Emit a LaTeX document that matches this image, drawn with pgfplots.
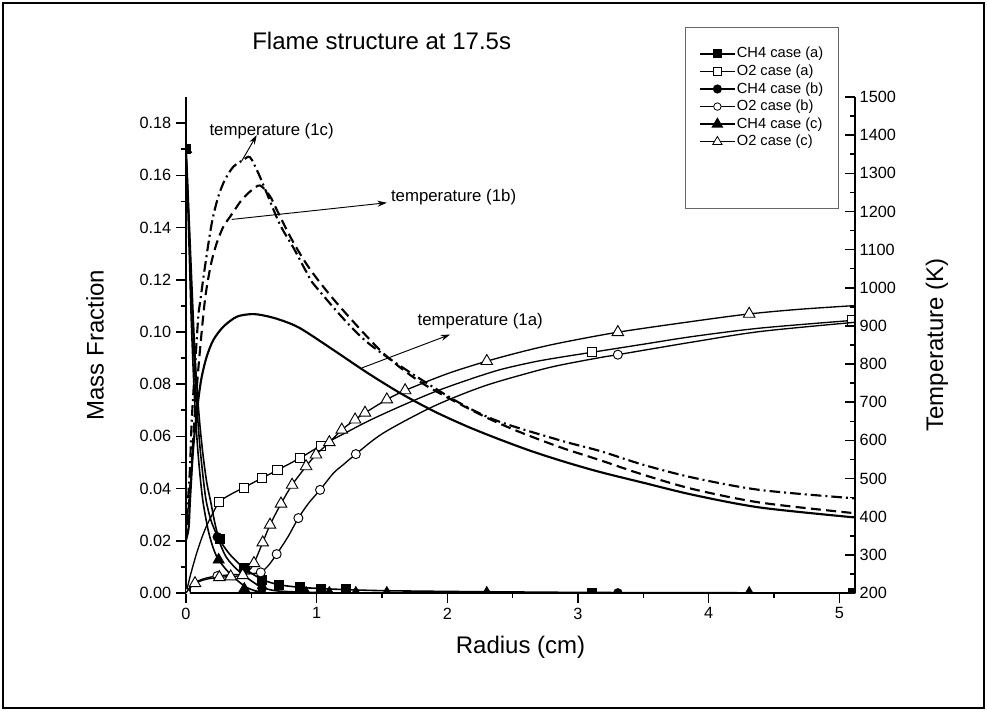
\documentclass[border=0pt]{standalone}
\usepackage{fontspec}
\setmainfont{Liberation Sans}
\usepackage{pgfplots}
\pgfplotsset{compat=1.18}
\usetikzlibrary{arrows.meta}
\begin{document}
\begin{tikzpicture}
\useasboundingbox (-139.5pt,-88.5pt) rectangle (600.75pt,444.75pt);
\pgfplotsset{
  every axis/.append style={
    scale only axis, width=501.75pt, height=372pt, at={(0pt,0pt)}, anchor=south west,
    xmin=0, xmax=5.12,
    axis line style={line width=1.5pt, -},
    major tick length=7.5pt, minor tick length=4pt,
    tick style={black, line width=1.2pt},
    tick label style={font=\fontsize{12.2pt}{14pt}\selectfont},
    label style={font=\fontsize{18pt}{21pt}\selectfont},
    /pgf/number format/assume math mode=true,
    /pgf/number format/1000 sep={},
    clip mode=individual,
    clip marker paths=true,
  },
}
% ---------------- Mass fraction axis ----------------
\begin{axis}[
  axis x line*=bottom, axis y line*=left,
  tick align=outside,
  ymin=0, ymax=0.19,
  ytick={0,0.02,0.04,0.06,0.08,0.10,0.12,0.14,0.16,0.18},
  minor y tick num=1,
  xtick={0,1,2,3,4,5}, minor x tick num=1,
  scaled y ticks=false,
  y tick label style={/pgf/number format/.cd, fixed, fixed zerofill, precision=2, /tikz/.cd},
  xlabel={Radius (cm)}, ylabel={Mass Fraction},
  xlabel style={at={(axis description cs:0.5,-0.121)}, anchor=base},
  ylabel style={at={(axis description cs:-0.136,0.5)}, anchor=center},
  legend style={draw=none, fill=none, inner sep=0pt, at={(axis description cs:0.7668,1.1054)}, anchor=north west,
    font=\fontsize{11pt}{13pt}\selectfont, row sep=0pt,
    nodes={inner sep=1pt, text height=8.7pt, text depth=2.5pt}},
  legend cell align=left,
  legend image code/.code={\draw[mark repeat=2,mark phase=2,#1] plot coordinates {(0pt,0pt) (13pt,0pt) (26pt,0pt)};},
]
\draw[black!60, line width=0.75pt, fill=white] (axis description cs:0.746,1.1411) rectangle (axis description cs:0.976,0.776);

% CH4 case (a)
\addplot[black, line width=1.2pt, smooth, forget plot] coordinates {
(0,0.170)(0.01,0.160)(0.025,0.142)(0.045,0.118)(0.07,0.090)(0.10,0.068)(0.13,0.053)(0.16,0.042)(0.191,0.0345)(0.22,0.027)(0.255,0.0208)(0.332,0.0150)(0.446,0.0095)(0.582,0.0052)(0.71,0.0032)(0.868,0.0022)(1.034,0.0017)(1.22,0.0013)(1.5,0.0009)(2,0.0006)(2.5,0.0004)(3.1,0.0002)(4,0.0001)(5.12,0)};
\addplot[only marks, mark=square*, mark size=3.4pt, black, forget plot] coordinates {
(0,0.170)(0.255,0.0208)(0.446,0.0095)(0.582,0.0050)(0.71,0.0031)(0.868,0.0022)(1.034,0.0018)(1.22,0.0015)(3.106,0.0002)(5.10,0)};
% O2 case (a)
\addplot[black, line width=1pt, smooth, forget plot] coordinates {
(0,0.0)(0.02,0.004)(0.04,0.008)(0.08,0.015)(0.12,0.021)(0.16,0.026)(0.2,0.030)(0.255,0.0349)(0.35,0.0380)(0.444,0.0404)(0.58,0.0440)(0.70,0.0471)(0.873,0.0517)(1.03,0.0564)(1.2,0.0608)(1.4,0.0660)(1.64,0.0715)(1.9,0.0770)(2.15,0.0815)(2.4,0.0855)(2.66,0.0885)(2.864,0.0903)(3.106,0.0922)(3.5,0.0953)(3.884,0.0983)(4.4,0.1015)(5.12,0.1045)};
\addplot[only marks, mark=square*, mark size=3.4pt, black, mark options={fill=white, line width=0.7pt}, forget plot] coordinates {
(0,0)(0.255,0.0349)(0.444,0.0404)(0.58,0.0440)(0.70,0.0471)(0.873,0.0517)(1.03,0.0564)(3.106,0.0922)(5.10,0.1044)};
% CH4 case (b)
\addplot[black, line width=1.2pt, smooth, forget plot] coordinates {
(0,0.170)(0.01,0.158)(0.025,0.138)(0.045,0.110)(0.07,0.082)(0.10,0.060)(0.125,0.047)(0.153,0.0357)(0.19,0.028)(0.23,0.0229)(0.306,0.0139)(0.408,0.0082)(0.51,0.0043)(0.582,0.0022)(0.7,0.0008)(1.0,0.0002)(1.5,0)(5.12,0)};
\addplot[only marks, mark=*, mark size=3.4pt, black, forget plot] coordinates {
(0,0.170)(0.24,0.0215)(0.582,0.0018)(1.026,0)(3.305,0)};
% O2 case (b)
\addplot[black, line width=1pt, smooth, forget plot] coordinates {
(0,0)(0.03,0.002)(0.06,0.0035)(0.1,0.0048)(0.16,0.0058)(0.24,0.0065)(0.35,0.0070)(0.45,0.0072)(0.52,0.0075)(0.572,0.0079)(0.63,0.0105)(0.694,0.0149)(0.78,0.0215)(0.86,0.0287)(0.94,0.0345)(1.026,0.0395)(1.128,0.0459)(1.2,0.0490)(1.30,0.0532)(1.511,0.0613)(1.894,0.0715)(2.277,0.0792)(2.659,0.0848)(2.864,0.0873)(3.17,0.0902)(3.305,0.0913)(3.884,0.0962)(4.4,0.1002)(5.12,0.1037)};
\addplot[only marks, mark=*, mark size=3.4pt, black, mark options={fill=white, line width=0.7pt}, forget plot] coordinates {
(0,0)(0.24,0.0065)(0.572,0.0079)(0.694,0.0149)(0.86,0.0287)(1.026,0.0395)(1.30,0.0532)(3.305,0.0913)};
% CH4 case (c)
\addplot[black, line width=1.2pt, smooth, forget plot] coordinates {
(0,0.170)(0.01,0.155)(0.025,0.130)(0.04,0.105)(0.06,0.080)(0.08,0.062)(0.10,0.049)(0.128,0.0357)(0.17,0.024)(0.21,0.017)(0.25,0.0127)(0.332,0.0076)(0.446,0.0027)(0.52,0.0010)(0.6,0.0003)(0.8,0)(5.12,0)};
\addplot[only marks, mark=triangle*, mark size=5pt, black, forget plot] coordinates {
(0,0.170)(0.25,0.0127)(0.446,0.0015)(0.919,0)(1.097,0)(1.30,0)(1.537,0)(2.302,0)(4.31,0)};
% O2 case (c)
\addplot[black, line width=1pt, smooth, forget plot] coordinates {
(0,0)(0.03,0.002)(0.069,0.0037)(0.15,0.0052)(0.255,0.0060)(0.342,0.0063)(0.434,0.0068)(0.48,0.0085)(0.52,0.0114)(0.587,0.0193)(0.643,0.0261)(0.727,0.0342)(0.812,0.0414)(0.919,0.0485)(0.995,0.0530)(1.097,0.0577)(1.192,0.0625)(1.294,0.0664)(1.37,0.0690)(1.537,0.0741)(1.677,0.0776)(2.0,0.0840)(2.302,0.0888)(2.6,0.0928)(2.864,0.0958)(3.305,0.0999)(3.884,0.1041)(4.31,0.1069)(4.7,0.1087)(5.12,0.1101)};
\addplot[only marks, mark=triangle*, mark size=5pt, black, mark options={fill=white, line width=0.7pt}, forget plot] coordinates {
(0.069,0.0037)(0.255,0.0060)(0.342,0.0063)(0.434,0.0068)(0.52,0.0114)(0.587,0.0193)(0.643,0.0261)(0.727,0.0342)(0.812,0.0414)(0.919,0.0485)(0.995,0.0530)(1.097,0.0577)(1.192,0.0625)(1.294,0.0664)(1.37,0.0690)(1.537,0.0741)(1.677,0.0776)(2.302,0.0888)(3.305,0.0999)(4.31,0.1069)};

\addlegendimage{black, line width=1.2pt, mark=square*, mark size=2.8pt}
\addlegendentry{CH4 case (a)}
\addlegendimage{black, line width=0.9pt, mark=square*, mark size=2.8pt, mark options={fill=white, line width=0.6pt}}
\addlegendentry{O2 case (a)}
\addlegendimage{black, line width=1.2pt, mark=*, mark size=2.8pt}
\addlegendentry{CH4 case (b)}
\addlegendimage{black, line width=0.9pt, mark=*, mark size=2.8pt, mark options={fill=white, line width=0.6pt}}
\addlegendentry{O2 case (b)}
\addlegendimage{black, line width=1.2pt, mark=triangle*, mark size=4pt}
\addlegendentry{CH4 case (c)}
\addlegendimage{black, line width=0.9pt, mark=triangle*, mark size=4pt, mark options={fill=white, line width=0.6pt}}
\addlegendentry{O2 case (c)}

% title and annotations
\node[anchor=base west, font=\fontsize{18pt}{21pt}\selectfont, inner sep=0pt] at (axis description cs:0.0987,1.0948) {Flame structure at 17.5s};
\draw[-{Stealth[length=7pt,width=4.5pt]}, line width=0.7pt] (axis cs:0.4265,0.1655) -- (axis cs:0.5413,0.1754);
\draw[-{Stealth[length=7pt,width=4.5pt]}, line width=0.7pt] (axis cs:0.35,0.1431) -- (axis cs:1.537,0.1495);
\draw[-{Stealth[length=7pt,width=4.5pt]}, line width=0.7pt] (axis cs:1.345,0.0862) -- (axis cs:2.021,0.0990);
\node[anchor=west, inner sep=0pt, font=\fontsize{12.6pt}{15pt}\selectfont] at (axis cs:0.178,0.1768) {temperature (1c)};
\node[anchor=west, inner sep=0pt, font=\fontsize{12.6pt}{15pt}\selectfont] at (axis cs:1.567,0.1515) {temperature (1b)};
\node[anchor=west, inner sep=0pt, font=\fontsize{12.6pt}{15pt}\selectfont] at (axis cs:1.771,0.1041) {temperature (1a)};
\end{axis}
% ---------------- Temperature axis ----------------
\begin{axis}[
  axis y line*=right, axis x line=none,
  tick align=inside,
  ymin=200, ymax=1500,
  ytick={200,300,400,500,600,700,800,900,1000,1100,1200,1300,1400,1500},
  minor y tick num=1,
  ylabel={Temperature (K)},
  ylabel style={at={(axis description cs:1.1226,0.5)}, anchor=center},
]
% temperature (1a)
\addplot[black, line width=1.6pt, smooth] coordinates {
(0,340)(0.02,370)(0.031,444)(0.056,583)(0.094,706)(0.12,766)(0.158,819)(0.209,863)(0.286,898)(0.388,924)(0.503,931)(0.6,927)(0.72,916)(0.873,894)(1.128,837)(1.384,778)(1.639,724)(1.894,677)(2.149,637)(2.404,602)(2.659,570)(2.915,542)(3.17,517)(3.5,489)(3.884,457)(4.395,424)(5.12,398)};
% temperature (1b)
\addplot[black, line width=1.6pt, smooth, dash pattern=on 7.5pt off 4pt] coordinates {
(0,340)(0.02,420)(0.04,520)(0.07,680)(0.1,810)(0.145,968)(0.19,1060)(0.235,1117)(0.286,1160)(0.337,1186)(0.426,1230)(0.5,1255)(0.567,1268)(0.643,1240)(0.694,1205)(0.796,1135)(0.898,1075)(1.0,1025)(1.179,950)(1.511,828)(1.817,748)(2.251,668)(2.532,625)(2.864,582)(3.17,548)(3.5,510)(3.884,472)(4.395,437)(5.12,409)};
% temperature (1c)
\addplot[black, line width=1.6pt, smooth, dash pattern=on 8pt off 3pt on 1.5pt off 3pt] coordinates {
(0,340)(0.015,440)(0.031,531)(0.044,653)(0.069,793)(0.094,925)(0.107,960)(0.145,1055)(0.197,1169)(0.247,1239)(0.298,1283)(0.362,1317)(0.439,1335)(0.49,1342)(0.554,1300)(0.618,1248)(0.72,1165)(0.822,1105)(0.924,1040)(1.0,1000)(1.384,858)(1.97,723)(2.353,655)(2.864,600)(3.17,572)(3.5,536)(3.884,502)(4.395,470)(5.12,448)};
\end{axis}
\draw[line width=1.5pt] (-137.25pt,-86.25pt) rectangle (598.5pt,442.5pt);
\end{tikzpicture}
\end{document}
